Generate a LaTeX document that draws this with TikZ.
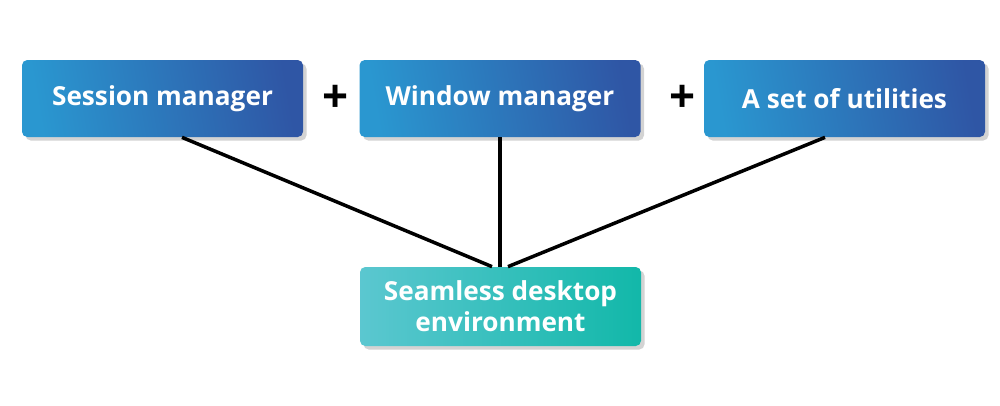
\documentclass[tikz,border=0pt]{standalone}
\usepackage{fontspec}
\setmainfont{Open Sans}
\usetikzlibrary{positioning,calc,shadows}

\definecolor{blueA}{HTML}{2A97D0}
\definecolor{blueB}{HTML}{2F56A5}
\definecolor{tealA}{HTML}{5BC7D0}
\definecolor{tealB}{HTML}{12B8A9}

\begin{document}
\begin{tikzpicture}[
  font=\bfseries\fontsize{14.9}{17.5}\selectfont,
  box/.style={
    rounded corners=3pt,
    align=center,
    text=white,
    minimum width=5.62cm,
    minimum height=1.54cm,
    inner sep=3pt,
    drop shadow={opacity=0.35, shadow xshift=2pt, shadow yshift=-2pt}
  },
  topbox/.style={box, left color=blueA, right color=blueB, shading angle=100},
  bottombox/.style={box, minimum height=1.58cm, left color=tealA, right color=tealB},
  link/.style={line width=2pt, draw=black},
  plussign/.style={font=\bfseries\fontsize{26}{26}\selectfont, text=black, inner sep=0pt}
]
\useasboundingbox (0,0) rectangle (20,-8.1);

% Top row: the three parts
\node[topbox] (session)   at (3.25,-1.97)  {Session manager};
\node[topbox] (window)    at (10.0,-1.97)  {Window manager};
\node[topbox] (utilities) at (16.89,-1.97) {A set of utilities};

\node[plussign] (plusA) at (6.72,-1.97) {+};
\node[plussign] (plusB) at (13.66,-1.97) {+};

% Bottom: what they add up to
\node[bottombox] (desktop) at (10.01,-6.13) {Seamless desktop\\environment};

\draw[link] ($(session.south)+(0.39,0)$) -- ($(desktop.north)+(-0.17,0)$);
\draw[link] (window.south) -- (window.south |- desktop.north);
\draw[link] ($(utilities.south)+(-0.39,0)$) -- ($(desktop.north)+(0.15,0)$);

\end{tikzpicture}
\end{document}
